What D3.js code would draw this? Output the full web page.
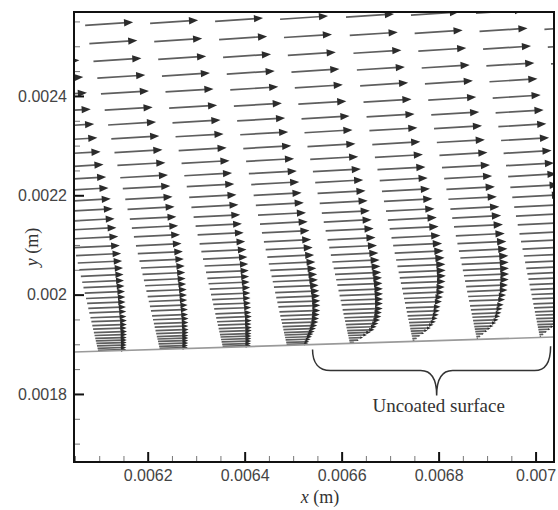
<!DOCTYPE html>
<html lang="en">
<head>
<meta charset="UTF-8">
<title>Velocity vectors over coated and uncoated surface</title>
<script src="https://d3js.org/d3.v7.min.js"></script>
<style>
  body { margin: 0; background: #fff; }
  .tick text { font-family: Arial, "Liberation Sans", sans-serif; font-size: 16px; fill: #444; }
  .axis-title, .note { font-family: "Liberation Serif", "Times New Roman", serif; fill: #333; }
</style>
</head>
<body>
<svg width="558" height="510"></svg>
<script>
// axis ticks
const xTicks = [0.0062, 0.0064, 0.0066, 0.0068, 0.007];
const xTickLabels = ['0.0062', '0.0064', '0.0066', '0.0068', '0.007'];
const xMinor = [0.00605, 0.0061, 0.00615, 0.00625, 0.0063, 0.00635, 0.00645, 0.0065, 0.00655,
                0.00665, 0.0067, 0.00675, 0.00685, 0.0069, 0.00695];
const yTicks = [0.0018, 0.002, 0.0022, 0.0024];
const yTickLabels = ['0.0018', '0.002', '0.0022', '0.0024'];
const yMinor = [0.0017, 0.00175, 0.00185, 0.0019, 0.00195, 0.00205, 0.0021, 0.00215,
                0.00225, 0.0023, 0.00235, 0.00245, 0.0025, 0.00255];

// wall (end points, m)
const wallX = [0.006048, 0.007038];
const wallY = [0.0018844, 0.0019146];

// mesh: row heights above the wall (um), column x at the wall and at the top row (m)
const rowH = [657, 620, 584, 550, 518, 485, 455, 427, 399, 373, 348, 326, 304, 284, 264, 246, 228,
              210, 194, 179, 165, 152, 140, 129, 118, 107, 97, 87, 78, 68, 60, 52, 45, 38, 32, 26,
              21, 16, 11, 6, 2];
const colWallX = [0.006098, 0.006225, 0.006355, 0.006487, 0.006617, 0.006747, 0.006879, 0.007009, 0.007139];
const colTopX  = [0.005943, 0.006071, 0.006205, 0.006339, 0.006473, 0.006609, 0.006743, 0.006877, 0.007011];

// v/u per row
const vOverU = [0.065, 0.064, 0.063, 0.062, 0.061, 0.060, 0.059, 0.058, 0.057, 0.056, 0.055, 0.054,
                0.053, 0.052, 0.050, 0.049, 0.048, 0.047, 0.046, 0.045, 0.044, 0.043, 0.042, 0.041,
                0.040, 0.039, 0.038, 0.037, 0.036, 0.035, 0.034, 0.034, 0.033, 0.033, 0.032, 0.032,
                0.032, 0.031, 0.031, 0.031, 0.031];

// u/U per row (top to wall)
const uCoated = [1, 1, 1, 1, 1, 1, 1, 1, 1, 1, 0.995, 0.99, 0.985, 0.98, 0.97, 0.965, 0.96, 0.95,
                 0.94, 0.925, 0.91, 0.89, 0.87, 0.855, 0.84, 0.82, 0.80, 0.785, 0.77, 0.75, 0.74,
                 0.72, 0.70, 0.69, 0.675, 0.655, 0.645, 0.63, 0.62, 0.60, 0.59];
const uCol3 = [1, 1, 1, 1, 1, 1, 1, 1, 1, 1, 1, 1, 1, 1, 1, 0.995, 0.99, 0.985, 0.98, 0.975, 0.97,
               0.96, 0.95, 0.94, 0.93, 0.92, 0.91, 0.895, 0.875, 0.85, 0.82, 0.79, 0.76, 0.72, 0.68,
               0.64, 0.60, 0.56, 0.52, 0.48, 0.45];
const uCol4 = [1, 1, 1, 1, 1, 1, 1, 1, 1, 1, 1, 1, 1, 1, 1, 1, 1, 1, 0.995, 0.99, 0.985, 0.975,
               0.965, 0.955, 0.94, 0.925, 0.905, 0.885, 0.86, 0.835, 0.80, 0.77, 0.73, 0.68, 0.63,
               0.57, 0.48, 0.39, 0.30, 0.20, 0.10];
const uCol5 = [1, 1, 1, 1, 1, 1, 1, 1, 1, 1, 1, 1, 1, 1.01, 1.01, 1.02, 1.02, 1.02, 1.02, 1.02,
               1.01, 1.0, 0.98, 0.96, 0.93, 0.89, 0.86, 0.81, 0.77, 0.72, 0.69, 0.65, 0.61, 0.56,
               0.50, 0.43, 0.35, 0.27, 0.18, 0.10, 0.04];
const uCol6 = [1, 1, 1, 1, 1, 1, 1, 1, 1, 1, 1, 1, 1.01, 1.01, 1.02, 1.02, 1.02, 1.02, 1.02, 1.01,
               1.0, 0.98, 0.96, 0.94, 0.91, 0.87, 0.84, 0.79, 0.75, 0.70, 0.66, 0.62, 0.58, 0.53,
               0.47, 0.40, 0.33, 0.25, 0.17, 0.09, 0.03];
const uCol7 = [1, 1, 1, 1, 1, 1, 1, 1, 1, 1, 1, 1.01, 1.01, 1.02, 1.02, 1.02, 1.02, 1.02, 1.01,
               1.0, 0.98, 0.96, 0.94, 0.92, 0.89, 0.86, 0.82, 0.78, 0.74, 0.69, 0.65, 0.61, 0.57,
               0.52, 0.46, 0.40, 0.33, 0.25, 0.17, 0.09, 0.03];
const colProfile = [uCoated, uCoated, uCoated, uCol3, uCol4, uCol5, uCol6, uCol7, uCol7];

// annotation
const braceX = [0.006540, 0.006796, 0.007031];
const noteText = 'Uncoated surface';

const margin = { top: 12, right: 4, bottom: 48, left: 74 },
      width = 558 - margin.left - margin.right,
      height = 510 - margin.top - margin.bottom;

const svg = d3.select('svg')
  .append('g')
    .attr('transform', `translate(${margin.left},${margin.top})`);

const x = d3.scaleLinear().domain([0.006048, 0.007038]).range([0, width]);
const y = d3.scaleLinear().domain([0.001663, 0.002569]).range([height, 0]);

svg.append('clipPath').attr('id', 'plot-clip')
  .append('rect').attr('width', width).attr('height', height);

const wallAt = xv => wallY[0] + (wallY[1] - wallY[0]) * (xv - wallX[0]) / (wallX[1] - wallX[0]);

// vector length for u/U = 1 (m, x direction)
const vecScale = 9.9e-5;

const nodes = [];
colWallX.forEach((xw, i) => {
  rowH.forEach((h, j) => {
    const xn = xw + (colTopX[i] - xw) * h / rowH[0];
    nodes.push({ xn: xn, yn: wallAt(xn) + h * 1e-6, u: colProfile[i][j], vr: vOverU[j] });
  });
});

const vec = svg.append('g')
    .attr('clip-path', 'url(#plot-clip)')
  .selectAll('.vec')
  .data(nodes.filter(d => d.u > 0))
  .enter().append('g')
    .attr('class', 'vec');

vec.each(function (d) {
  const g = d3.select(this);
  const x0 = x(d.xn), y0 = y(d.yn);
  const x1 = x(d.xn + d.u * vecScale), y1 = y(d.yn + d.u * vecScale * d.vr);
  const len = Math.hypot(x1 - x0, y1 - y0);
  const ux = (x1 - x0) / len, uy = (y1 - y0) / len;
  const hl = len * 0.19, hw = hl * 0.4;
  const bx = x1 - ux * hl, by = y1 - uy * hl;
  g.append('line')
    .attr('x1', x0).attr('y1', y0)
    .attr('x2', bx + ux * hl * 0.3).attr('y2', by + uy * hl * 0.3)
    .attr('stroke', '#5e5e5e')
    .attr('stroke-width', 1.7);
  g.append('path')
    .attr('d', `M${x1},${y1}L${bx - uy * hw},${by + ux * hw}L${bx + uy * hw},${by - ux * hw}Z`)
    .attr('fill', '#2b2b2b');
});

// wall
svg.append('line')
  .attr('x1', x(wallX[0])).attr('y1', y(wallY[0]))
  .attr('x2', x(wallX[1])).attr('y2', y(wallY[1]))
  .attr('stroke', '#9a9a9a')
  .attr('stroke-width', 1.6);

// brace under the uncoated part
const bL = x(braceX[0]), bM = x(braceX[1]), bR = x(braceX[2]);
const bTopL = y(wallAt(braceX[0])) + 5, bTopR = y(wallAt(braceX[2])) + 9;
const bLine = bTopL + 21, bTip = bLine + 25;
svg.append('path')
  .attr('d', `M${bL},${bTopL} C${bL},${bLine - 8} ${bL + 6},${bLine} ${bL + 18},${bLine}` +
             ` L${bM - 16},${bLine} C${bM - 6},${bLine} ${bM},${bLine + 8} ${bM},${bTip}` +
             ` C${bM},${bLine + 8} ${bM + 6},${bLine} ${bM + 16},${bLine}` +
             ` L${bR - 16},${bLine} C${bR - 5},${bLine} ${bR},${bLine - 8} ${bR},${bTopR}`)
  .attr('fill', 'none')
  .attr('stroke', '#333')
  .attr('stroke-width', 1.5);

svg.append('text')
  .attr('class', 'note')
  .attr('x', bM + 2).attr('y', bTip + 16)
  .attr('text-anchor', 'middle')
  .style('font-size', '19px')
  .text(noteText);

// axes
const xAxis = svg.append('g')
  .attr('transform', `translate(0,${height})`)
  .call(d3.axisBottom(x).tickValues(xTicks).tickFormat((d, i) => xTickLabels[i])
    .tickSize(-10).tickPadding(8));
xAxis.select('.domain').remove();
xAxis.selectAll('.tick line').attr('stroke', '#111').attr('stroke-width', 2);

const xAxisMinor = svg.append('g')
  .attr('transform', `translate(0,${height})`)
  .call(d3.axisBottom(x).tickValues(xMinor).tickFormat('').tickSize(-6));
xAxisMinor.select('.domain').remove();
xAxisMinor.selectAll('.tick line').attr('stroke', '#777').attr('stroke-width', 1);

const yAxis = svg.append('g')
  .call(d3.axisLeft(y).tickValues(yTicks).tickFormat((d, i) => yTickLabels[i])
    .tickSize(-10).tickPadding(7));
yAxis.select('.domain').remove();
yAxis.selectAll('.tick line').attr('stroke', '#111').attr('stroke-width', 2);

const yAxisMinor = svg.append('g')
  .call(d3.axisLeft(y).tickValues(yMinor).tickFormat('').tickSize(-6));
yAxisMinor.select('.domain').remove();
yAxisMinor.selectAll('.tick line').attr('stroke', '#777').attr('stroke-width', 1);

// frame
svg.append('rect')
  .attr('width', width).attr('height', height)
  .attr('fill', 'none')
  .attr('stroke', '#111')
  .attr('stroke-width', 2);

// axis titles
svg.append('text')
  .attr('class', 'axis-title')
  .attr('x', 246).attr('y', height + 41)
  .attr('text-anchor', 'middle')
  .style('font-size', '18px')
  .html('<tspan font-style="italic">x</tspan> (m)');

svg.append('text')
  .attr('class', 'axis-title')
  .attr('transform', `translate(-36,${235}) rotate(-90)`)
  .attr('text-anchor', 'middle')
  .style('font-size', '18px')
  .html('<tspan font-style="italic">y</tspan> (m)');
</script>
</body>
</html>
